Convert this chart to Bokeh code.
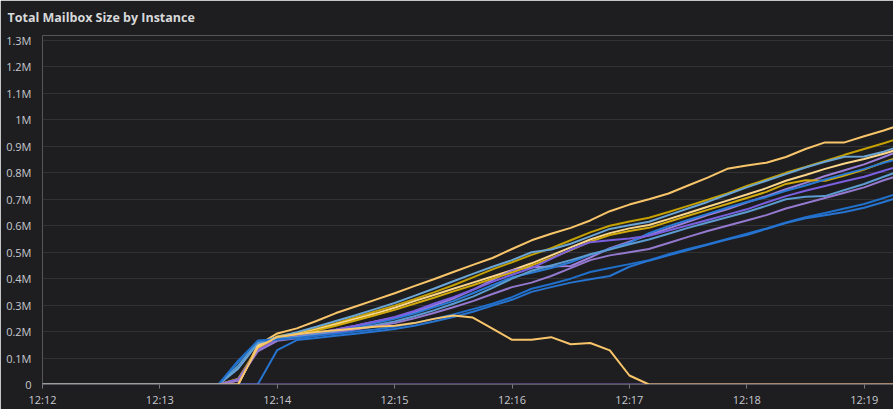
import math
import pandas as pd
from bokeh.plotting import figure
from bokeh.models import FixedTicker, CustomJSTickFormatter, DatetimeTickFormatter, Range1d
from bokeh.embed import file_html
from bokeh.resources import INLINE

TITLE = "Total Mailbox Size by Instance"

TIMES = ["12:12:00", "12:13:30", "12:13:40", "12:13:50", "12:14:00", "12:14:10", "12:14:20",
         "12:14:30", "12:14:40", "12:14:50", "12:15:00", "12:15:10", "12:15:20", "12:15:30",
         "12:15:40", "12:15:50", "12:16:00", "12:16:10", "12:16:20", "12:16:30", "12:16:40",
         "12:16:50", "12:17:00", "12:17:10", "12:17:20", "12:17:30", "12:17:40", "12:17:50",
         "12:18:00", "12:18:10", "12:18:20", "12:18:30", "12:18:40", "12:18:50", "12:19:00",
         "12:19:10", "12:19:20"]

# values in thousands
S_A = [0, 0, 0, 148, 193, 212, 240, 270, 295, 320, 345, 372, 398, 425, 452, 478, 512, 545, 570, 592, 620, 655, 680, 700, 722, 752, 782, 815, 828, 838, 860, 890, 915, 915, 938, 960, 985]
S_B = [0, 0, 22, 138, 182, 195, 212, 232, 254, 276, 298, 322, 348, 375, 405, 435, 462, 490, 515, 545, 575, 600, 616, 630, 652, 675, 698, 722, 750, 775, 800, 822, 845, 868, 890, 912, 935]
S_C = [0, 0, 60, 155, 180, 198, 218, 240, 262, 285, 308, 335, 362, 390, 418, 445, 470, 500, 510, 532, 560, 588, 602, 615, 640, 665, 690, 718, 745, 770, 795, 820, 842, 861, 862, 880, 905]
S_D = [0, 0, 0, 145, 175, 190, 208, 228, 248, 268, 290, 315, 338, 362, 385, 408, 432, 458, 488, 518, 548, 572, 590, 603, 625, 648, 672, 695, 718, 742, 770, 792, 815, 835, 852, 872, 895]
S_E = [0, 0, 15, 128, 168, 180, 193, 207, 222, 238, 252, 272, 298, 325, 358, 395, 432, 443, 446, 448, 480, 515, 540, 565, 590, 615, 640, 662, 688, 712, 738, 762, 788, 810, 832, 860, 888]
S_F = [0, 0, 20, 135, 175, 188, 204, 222, 242, 262, 282, 305, 328, 352, 375, 400, 423, 450, 478, 508, 540, 565, 580, 592, 615, 638, 660, 682, 705, 728, 758, 772, 770, 790, 812, 840, 865]
S_G = [0, 0, 85, 165, 172, 180, 192, 205, 218, 232, 248, 268, 292, 315, 345, 375, 405, 422, 440, 462, 490, 512, 535, 572, 598, 622, 645, 668, 690, 708, 732, 752, 775, 795, 815, 838, 858]
S_H = [0, 0, 20, 130, 170, 182, 195, 208, 222, 238, 255, 278, 305, 330, 358, 388, 415, 440, 475, 510, 538, 545, 552, 562, 582, 602, 622, 642, 662, 688, 712, 732, 750, 768, 785, 808, 830]
S_I = [0, 0, 70, 160, 172, 180, 190, 200, 212, 224, 238, 258, 280, 305, 332, 365, 400, 430, 450, 470, 492, 510, 530, 548, 570, 592, 612, 632, 652, 675, 700, 710, 712, 735, 758, 785, 812]
S_J = [0, 0, 15, 125, 165, 175, 185, 196, 208, 220, 232, 250, 270, 292, 315, 342, 368, 385, 410, 440, 470, 488, 500, 512, 535, 558, 580, 600, 620, 640, 665, 685, 705, 725, 745, 772, 795]
S_K = [0, 0, 90, 165, 170, 176, 184, 192, 200, 208, 218, 232, 248, 265, 285, 305, 330, 362, 380, 400, 425, 440, 455, 470, 492, 512, 530, 550, 570, 590, 612, 632, 648, 665, 682, 705, 728]
S_L = [0, 0, 0, 0, 130, 168, 176, 184, 192, 200, 210, 222, 238, 255, 275, 298, 320, 350, 368, 385, 398, 410, 445, 468, 488, 508, 528, 548, 565, 588, 610, 628, 640, 652, 668, 690, 712]
S_N = [math.nan, 0, 0, 0, 0, 0, 0, 0, 0, 0, 0, 0, 0, 0, 0, 0, 0, 0, 0, 0, 0, 0, 0, 0, 0, 0, 0, 0, 0, 0, 0, 0, 0, 0, 0, 0, 0]
S_M = [0, 0, 0, 140, 180, 190, 198, 205, 212, 218, 222, 232, 248, 261, 253, 211, 169, 169, 179, 152, 157, 129, 34, 0, 0, 0, 0, 0, 0, 0, 0, 0, 0, 0, 0, 0, 0]

Y_TICKS = [0, 100000, 200000, 300000, 400000, 500000, 600000, 700000, 800000, 900000,
           1000000, 1100000, 1200000, 1300000]
X_TICKS = ["12:12", "12:13", "12:14", "12:15", "12:16", "12:17", "12:18", "12:19"]

SERIES = [
    (S_A, "#F8C56A"), (S_B, "#C4A000"), (S_C, "#6AA5D6"), (S_D, "#FCD68A"),
    (S_E, "#9C7FDB"), (S_F, "#D0A80A"), (S_G, "#2A7BD6"), (S_H, "#7A5FE0"),
    (S_I, "#5B9BD0"), (S_J, "#9479CF"), (S_K, "#1F6FCB"), (S_L, "#2673D0"),
    (S_N, "#8A6FC8"), (S_M, "#F8C56A"),
]

DAY = "2024-01-01 "


def ms(t):
    return pd.Timestamp(DAY + t).value // 10**6


xs = [ms(t) for t in TIMES]

BG = "#1e1e20"
p = figure(width=893, height=409, output_backend="svg", toolbar_location=None,
           x_axis_type="datetime",
           x_range=Range1d(ms("12:12:00"), ms("12:19:15")),
           y_range=Range1d(0, 1319000),
           min_border_left=42, min_border_right=0, min_border_top=35, min_border_bottom=25,
           background_fill_color=BG, border_fill_color=BG, outline_line_color=None)

p.title.text = TITLE
p.title.text_font = "Open Sans"
p.title.text_font_size = "12.5px"
p.title.text_font_style = "bold"
p.title.text_color = "#d8d9da"
p.title.offset = -35
p.title.standoff = 15
p.title.vertical_align = "top"

for vals, col in SERIES:
    p.line(xs, [v * 1000 for v in vals], line_color=col, line_width=2)

p.xgrid.visible = False
p.ygrid.grid_line_color = "#323235"
p.ygrid.grid_line_width = 1
p.ygrid.ticker = FixedTicker(ticks=Y_TICKS)

p.yaxis.ticker = FixedTicker(ticks=Y_TICKS)
p.yaxis.formatter = CustomJSTickFormatter(code="""
    if (tick == 0) return '0';
    var v = Math.round(tick / 1e5) / 10;
    return v + 'M';
""")
p.yaxis.axis_line_color = None
p.yaxis.major_tick_line_color = None
p.yaxis.minor_tick_line_color = None
p.yaxis.major_label_standoff = 5

p.xaxis.ticker = FixedTicker(ticks=[ms(t + ":00") for t in X_TICKS])
p.xaxis.formatter = DatetimeTickFormatter(minutes="%H:%M", hourmin="%H:%M", seconds="%H:%M")
p.xaxis.axis_line_color = "#5a5a60"
p.xaxis.major_tick_line_color = "#7a7a80"
p.xaxis.major_tick_out = 4
p.xaxis.major_tick_in = 0
p.xaxis.minor_tick_line_color = None
p.xaxis.major_label_standoff = 3

for ax in (p.xaxis, p.yaxis):
    ax.major_label_text_font = "Open Sans"
    ax.major_label_text_font_size = "11px"
    ax.major_label_text_color = "#c7c8cf"

open("out.html", "w").write(file_html(p, INLINE))
